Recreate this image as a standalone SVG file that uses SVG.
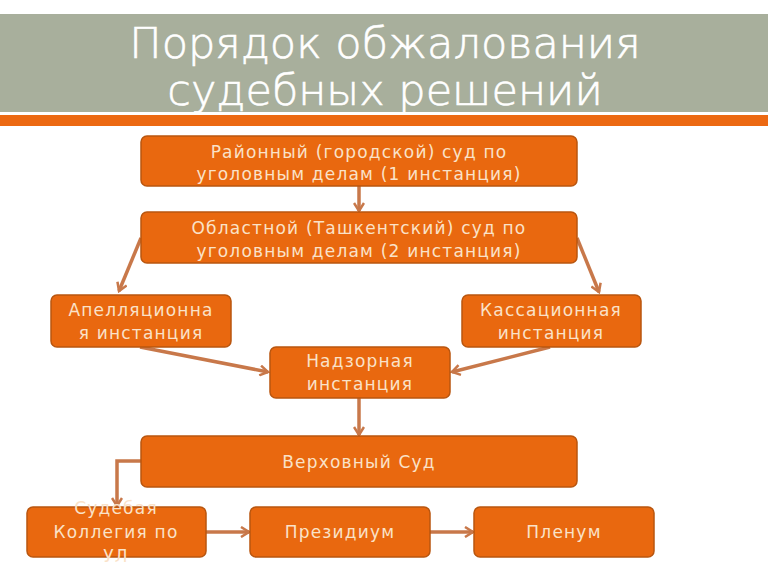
<svg xmlns="http://www.w3.org/2000/svg" width="768" height="576" viewBox="0 0 768 576">
<defs>
<style>
.box{fill:#e9680f;stroke:#b9560f;stroke-width:1.5}
.t{font-family:"DejaVu Sans",sans-serif;font-size:17px;fill:#fae2c8;text-anchor:middle;letter-spacing:1.2px}
.title{font-family:"DejaVu Sans",sans-serif;font-size:43px;fill:#ffffff;text-anchor:middle;font-weight:200;stroke:#ffffff;stroke-width:0.6}
.c{fill:none;stroke:#c8784a;stroke-width:3.5;marker-end:url(#ah)}
</style>
<marker id="ah" viewBox="0 0 12 12" refX="10" refY="6" markerWidth="12" markerHeight="12" markerUnits="userSpaceOnUse" orient="auto">
<path d="M2,1 L10,6 L2,11" fill="none" stroke="#c8784a" stroke-width="2.5"/>
</marker>
</defs>
<rect x="0" y="0" width="768" height="576" fill="#ffffff"/>
<g id="header">
<rect x="0" y="14" width="768" height="98" fill="#a8af9c"/>
<rect x="0" y="115" width="768" height="11" fill="#ec6912"/>
<text class="title" x="385" y="58">Порядок обжалования</text>
<text class="title" x="385" y="105">судебных решений</text>
</g>
<g id="connectors">
<path class="c" d="M359,186 L359,211"/>
<path class="c" d="M141,238 L119,291"/>
<path class="c" d="M577,238 L599,292"/>
<path class="c" d="M140,347 L268,372"/>
<path class="c" d="M550,347 L452,372"/>
<path class="c" d="M359,398 L359,435"/>
<path class="c" d="M141,461 L117,461 L117,506"/>
<path class="c" d="M206,532 L249,532"/>
<path class="c" d="M430,532 L473,532"/>
</g>
<g id="n1"><rect class="box" x="141" y="136" width="436" height="50" rx="6"/>
<text class="t" x="359" y="158">Районный (городской) суд по</text>
<text class="t" x="359" y="180">уголовным делам (1 инстанция)</text></g>
<g id="n2"><rect class="box" x="141" y="212" width="436" height="51" rx="6"/>
<text class="t" x="359" y="234">Областной (Ташкентский) суд по</text>
<text class="t" x="359" y="257">уголовным делам (2 инстанция)</text></g>
<g id="n3"><rect class="box" x="51" y="295" width="180" height="52" rx="6"/>
<text class="t" x="141" y="316">Апелляционна</text>
<text class="t" x="141" y="339">я инстанция</text></g>
<g id="n4"><rect class="box" x="462" y="295" width="179" height="52" rx="6"/>
<text class="t" x="551" y="316">Кассационная</text>
<text class="t" x="551" y="339">инстанция</text></g>
<g id="n5"><rect class="box" x="270" y="347" width="180" height="51" rx="6"/>
<text class="t" x="360" y="367">Надзорная</text>
<text class="t" x="360" y="390">инстанция</text></g>
<g id="n6"><rect class="box" x="141" y="436" width="436" height="51" rx="6"/>
<text class="t" x="359" y="468">Верховный Суд</text></g>
<g id="n7"><rect class="box" x="27" y="507" width="179" height="50" rx="6"/>
<text class="t" x="116" y="514">Судебая</text>
<text class="t" x="116" y="538">Коллегия по</text>
<text class="t" x="116" y="562">УЛ</text></g>
<g id="n8"><rect class="box" x="250" y="507" width="180" height="50" rx="6"/>
<text class="t" x="340" y="538">Президиум</text></g>
<g id="n9"><rect class="box" x="474" y="507" width="180" height="50" rx="6"/>
<text class="t" x="564" y="538">Пленум</text></g>
</svg>
